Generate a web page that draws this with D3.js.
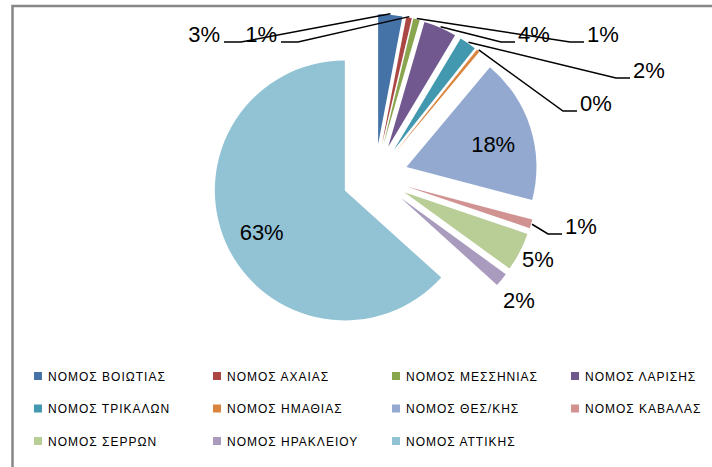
<!DOCTYPE html>
<html>
<head>
<meta charset="utf-8">
<script src="https://cdn.jsdelivr.net/npm/d3@7/dist/d3.min.js"></script>
<style>
  body { margin: 0; background: #fff; }
  svg { display: block; font-family: "Liberation Sans", Arial, sans-serif; }
</style>
</head>
<body>
<svg></svg>
<script>
const width = 712;
const height = 467;

// Regions, in the order the pie draws them (clockwise from 12 o'clock)
const regions = ["ΝΟΜΟΣ ΒΟΙΩΤΙΑΣ", "ΝΟΜΟΣ ΑΧΑΙΑΣ", "ΝΟΜΟΣ ΜΕΣΣΗΝΙΑΣ", "ΝΟΜΟΣ ΛΑΡΙΣΗΣ",
  "ΝΟΜΟΣ ΤΡΙΚΑΛΩΝ", "ΝΟΜΟΣ ΗΜΑΘΙΑΣ", "ΝΟΜΟΣ ΘΕΣ/ΚΗΣ", "ΝΟΜΟΣ ΚΑΒΑΛΑΣ",
  "ΝΟΜΟΣ ΣΕΡΡΩΝ", "ΝΟΜΟΣ ΗΡΑΚΛΕΙΟΥ", "ΝΟΜΟΣ ΑΤΤΙΚΗΣ"];
// share of total (%)
const shares = [3.0, 0.7, 0.8, 4.1, 2.1, 0.4, 18.0, 1.1, 4.8, 1.7, 63.3];
const colors = ["#4572a7", "#aa4643", "#89a54e", "#71588f", "#4198af", "#db843d",
  "#93a9cf", "#d19392", "#b9cd96", "#a99bbd", "#92c3d5"];

// where each data label sits (null = inside the slice)
const labelSpots = [
  { x: 220, y: 42, anchor: "end", leader: true },
  { x: 277, y: 42, anchor: "end", leader: true },
  { x: 587, y: 42, anchor: "start", leader: true },
  { x: 518, y: 42, anchor: "start", leader: true },
  { x: 633, y: 78, anchor: "start", leader: true },
  { x: 580, y: 111, anchor: "start", leader: true },
  null,
  { x: 565, y: 234, anchor: "start", leader: true },
  { x: 522, y: 267, anchor: "start", leader: false },
  { x: 503, y: 308, anchor: "start", leader: false },
  null
];

const cx = 375, cy = 177;
const radius = 130;
const explode = 33;

const svg = d3.select("svg")
  .attr("width", width)
  .attr("height", height);

// chart area frame (right / bottom edges fall outside the picture)
svg.append("rect")
  .attr("x", 12.5)
  .attr("y", 6)
  .attr("width", 760)
  .attr("height", 520)
  .attr("fill", "none")
  .attr("stroke", "#878787")
  .attr("stroke-width", 2.5);

const pie = d3.pie().sort(null).value(d => d);
const arcs = pie(shares);
const arc = d3.arc().innerRadius(0).outerRadius(radius);

function dir(a) { return [Math.sin(a), -Math.cos(a)]; }
function mid(d) { return (d.startAngle + d.endAngle) / 2; }
function apex(d) {
  const v = dir(mid(d));
  return [cx + explode * v[0], cy + explode * v[1]];
}

const g = svg.append("g");

g.selectAll("path.slice")
  .data(arcs)
  .enter().append("path")
  .attr("class", "slice")
  .attr("transform", d => "translate(" + apex(d) + ")")
  .attr("d", arc)
  .attr("fill", (d, i) => colors[i]);

// leader lines
const leaders = arcs.filter((d, i) => labelSpots[i] && labelSpots[i].leader);
g.selectAll("path.leader")
  .data(leaders)
  .enter().append("path")
  .attr("class", "leader")
  .attr("fill", "none")
  .attr("stroke", "#000")
  .attr("stroke-width", 1.5)
  .attr("d", d => {
    const s = labelSpots[d.index];
    const p = apex(d), v = dir(mid(d));
    const start = [p[0] + (radius + 1) * v[0], p[1] + (radius + 1) * v[1]];
    let elbow, end;
    if (s.anchor === "end") {
      end = [s.x + 4, s.y];
      elbow = [s.x + 21, s.y];
    } else {
      end = [s.x - 3, s.y];
      elbow = [s.x - 17, s.y];
    }
    return d3.line()([start, elbow, end]);
  });

// data labels
const labelArc = d3.arc().innerRadius(91).outerRadius(91);
g.selectAll("text.label")
  .data(arcs)
  .enter().append("text")
  .attr("class", "label")
  .attr("font-size", 22)
  .attr("fill", "#000")
  .attr("text-anchor", (d, i) => labelSpots[i] ? labelSpots[i].anchor : "middle")
  .attr("x", (d, i) => labelSpots[i] ? labelSpots[i].x : apex(d)[0] + labelArc.centroid(d)[0])
  .attr("y", (d, i) => labelSpots[i] ? labelSpots[i].y : apex(d)[1] + labelArc.centroid(d)[1] + 13)
  .text(d => Math.round(d.data) + "%");

// legend
const legend = svg.append("g")
  .selectAll("g")
  .data(regions)
  .enter().append("g")
  .attr("transform", (d, i) => "translate(" + (34 + (i % 4) * 179) + "," + (376 + Math.floor(i / 4) * 32.5) + ")");

legend.append("rect")
  .attr("x", 0)
  .attr("y", -4)
  .attr("width", 8)
  .attr("height", 8)
  .attr("fill", (d, i) => colors[i]);

legend.append("text")
  .attr("x", 14)
  .attr("y", 4.5)
  .attr("font-size", 12)
  .attr("letter-spacing", "1px")
  .attr("fill", "#000")
  .text(d => d);
</script>
</body>
</html>
